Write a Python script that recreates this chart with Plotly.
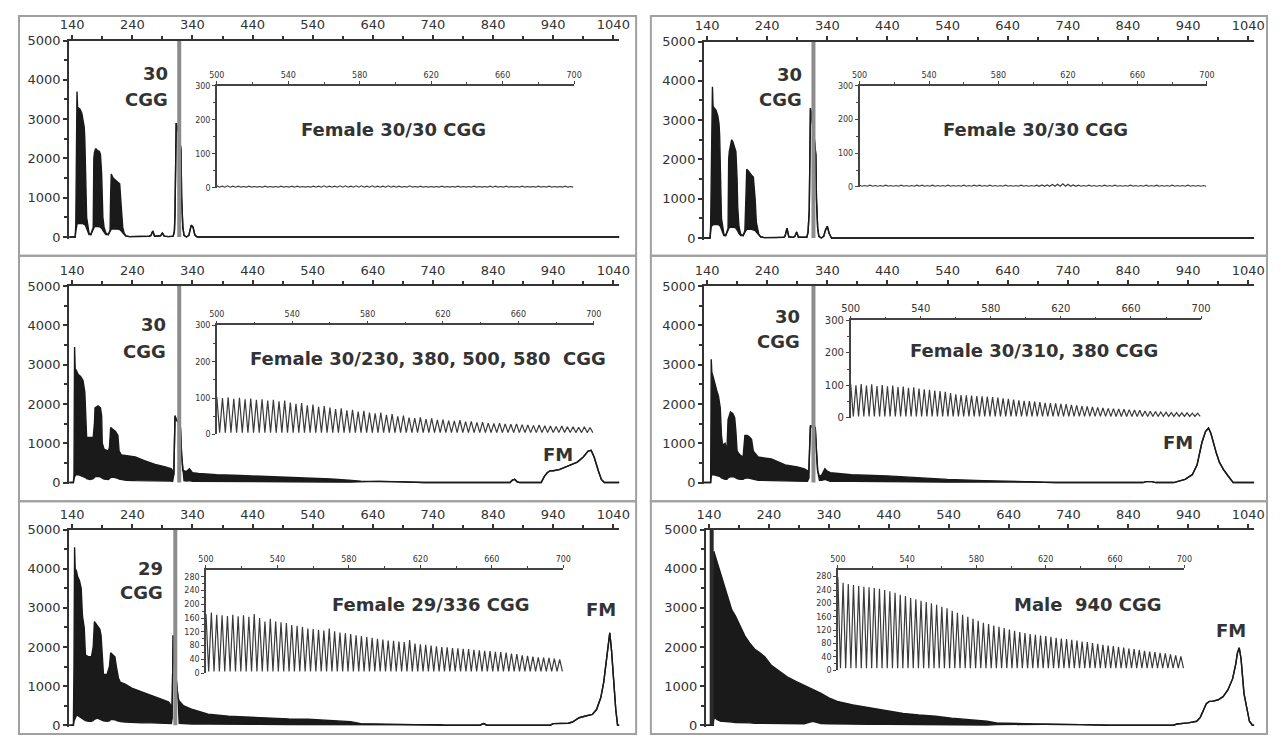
import plotly.graph_objects as go

W, H = 1286, 749          # browser window
BODY = 8                  # default page margin around the plot div
FW, FH = W - 2 * BODY, H - 2 * BODY

# ---------------- tick data ----------------
MAIN_X_TICKS = [140, 240, 340, 440, 540, 640, 740, 840, 940, 1040]
MAIN_X_MINOR = [190, 290, 390, 490, 590, 690, 790, 890, 990]
MAIN_Y_TICKS = [0, 1000, 2000, 3000, 4000, 5000]
MAIN_Y_MINOR = [500, 1500, 2500, 3500, 4500]
INSET_X_TICKS = [500, 540, 580, 620, 660, 700]
INSET_X_MINOR = [520, 560, 600, 640, 680]
INSET_Y_TICKS_100 = [0, 100, 200, 300]
INSET_Y_MINOR_100 = [50, 150, 250]
INSET_Y_TICKS_40 = [0, 40, 80, 120, 160, 200, 240, 280]
INSET_Y_MINOR_40 = [20, 60, 100, 140, 180, 220, 260]

# ---------------- labels ----------------
SAMPLE_LABELS = ["Female 30/30 CGG", "Female 30/30 CGG",
                 "Female 30/230, 380, 500, 580\u00a0 CGG", "Female 30/310, 380 CGG",
                 "Female 29/336 CGG", "Male\u00a0 940 CGG"]
ALLELE_LABELS = ["30", "30", "30", "30", "29", None]
FM_LABEL = "FM"

# normal-allele marker positions (bp)
MARKERS = [318, 317, 318, 317, 311.5, 144.5]

# ---------------- main electropherograms (bp, upper envelope, lower envelope) ----------------
A_x = [135,145,146,147,148,149,153,156,158,160,161,162,163,164,166,168,171,175,176,177,
       179,182,185,187,189,190,191,193,196,200,203,204,205,208,212,216,219,221,222,224,
       226,229,235,255,268,271,274,277,283,287,290,293,300,308,310,311,313,315,318,321,
       322,324,326,330,334,338,341,344,348,1050]
A_top = [0,0,300,1800,3700,3300,3250,3150,3000,2800,2500,1800,1000,500,300,100,60,250,2000,2150,
         2250,2200,2180,2100,1600,900,500,250,100,60,180,1100,1600,1500,1450,1400,1350,900,600,250,
         120,30,10,10,20,40,150,20,15,30,100,20,10,20,150,600,2900,2800,2600,2200,
         1000,250,40,0,40,300,250,50,0,0]
A_bot = [0,0,150,300,320,340,350,350,340,330,320,300,260,220,150,60,60,200,240,260,
         270,270,260,250,230,200,170,120,60,60,150,180,200,210,210,200,190,170,150,110,
         80,30,10,10,20,40,150,20,15,30,100,20,10,20,150,600,2900,2800,2600,2200,
         1000,250,40,0,40,300,250,50,0,0]

B_x = [135,145,146,147,149,150,153,155,158,160,161,162,163,164,166,168,171,175,176,177,
       179,181,183,185,188,190,191,193,196,200,203,205,206,209,211,214,217,220,222,224,
       226,229,235,255,268,270,273,276,283,286,289,292,300,306,308,310,312,315,318,321,
       322,324,326,330,334,337,340,343,347,1050]
B_top = [0,0,300,1900,3850,3350,3300,3250,3100,2900,2600,2000,1000,500,300,100,60,250,2000,2200,
         2350,2500,2450,2350,2200,1500,800,300,100,60,200,1200,1750,1700,1650,1600,1550,1000,400,200,
         100,30,10,10,20,60,250,30,15,40,150,20,10,20,150,700,3300,3000,2600,2100,
         1000,250,40,0,40,200,300,120,0,0]
B_bot = [0,0,150,300,320,340,350,350,340,330,320,300,260,220,150,60,60,200,250,270,
         280,280,280,270,250,220,180,120,60,60,170,200,220,230,230,220,210,190,150,110,
         80,30,10,10,20,60,250,30,15,40,150,20,10,20,150,700,3300,3000,2600,2100,
         1000,250,40,0,40,200,300,120,0,0]

C_x = [135,142,143,144,145,147,150,154,158,161,163,164,170,175,177,178,183,187,189,190,
       193,200,202,204,208,212,216,218,222,230,245,260,278,295,305,307,309,311,313,318,
       320,322,324,326,330,335,340,350,380,420,460,500,540,570,600,620,650,680,710,725,
       868,872,876,880,884,920,925,930,935,940,950,960,970,980,990,998,1003,1008,1015,1020,
       1025,1050]
C_top = [0,0,200,3450,2900,2850,2750,2700,2600,2300,1400,1150,1150,1150,1500,1900,1950,1900,1700,1000,
         850,800,900,1400,1350,1300,1200,800,700,680,650,560,460,400,350,300,200,1700,1600,1500,
         1400,700,300,300,280,350,250,230,200,180,160,140,110,90,60,35,30,25,15,0,
         0,60,80,20,0,0,150,250,300,300,330,400,450,520,650,800,820,650,300,80,
         0,0]
C_bot = [0,0,100,150,180,200,200,180,160,150,120,100,80,100,120,150,160,150,130,110,
         90,80,100,130,140,130,110,90,80,60,50,50,40,40,40,30,200,1700,1600,1500,
         1400,700,300,50,40,50,30,30,30,25,20,20,15,15,10,20,30,25,15,0,
         0,60,80,20,0,0,150,250,300,300,330,400,450,520,650,800,820,650,300,80,
         0,0]

D_x = [135,146,147,148,150,153,156,159,162,164,166,170,173,175,179,183,186,188,190,195,
       200,203,207,211,214,217,225,247,270,290,302,307,309,311,312,316,320,322,324,327,
       331,336,339,345,380,440,500,540,600,650,680,700,720,865,870,880,886,916,925,935,
       942,947,955,963,969,974,978,982,987,992,999,1006,1011,1015,1050]
D_top = [0,0,3140,2800,2700,2500,2350,2200,1900,1200,950,1000,800,1600,1800,1750,1650,1300,800,700,
         650,1200,1200,1150,1100,800,650,600,450,400,350,300,100,1100,1450,1400,1400,800,300,150,
         200,350,300,250,200,170,120,80,50,30,15,5,0,0,25,25,0,0,30,80,
         150,200,450,1020,1300,1390,1250,1000,750,520,330,180,70,0,0]
D_bot = [0,0,150,200,200,190,180,170,150,120,100,80,80,120,150,150,140,120,100,80,
         80,110,120,110,100,80,60,50,40,40,40,30,100,1100,1450,1400,1400,800,300,60,
         60,80,60,30,30,20,15,10,15,20,15,5,0,0,25,25,0,0,30,80,
         150,200,450,1020,1300,1390,1250,1000,750,520,330,180,70,0,0]

E_x = [135,142,143,144,145,147,149,152,155,157,160,162,167,172,175,177,182,186,188,190,
       192,198,202,204,208,211,214,217,220,228,239,256,272,289,300,305,306,308,310,313,
       316,318,325,340,366,400,450,500,532,581,603,620,650,700,752,760,818,824,830,935,
       940,965,972,983,995,1005,1012,1019,1024,1028,1031,1034,1037,1041,1044,1047,1050]
E_top = [0,0,1500,4550,4000,3950,3800,3700,3500,2800,2500,1800,1750,1750,2000,2650,2550,2450,2300,1800,
         1300,1300,1500,1850,1800,1750,1450,1200,1100,1050,950,850,750,650,600,500,150,2300,1600,1200,
         700,620,500,400,280,230,190,160,150,120,90,40,30,20,10,0,0,40,0,0,
         40,50,80,190,240,275,400,700,1100,1600,2100,2360,1900,1025,400,0,0]
E_bot = [0,0,100,150,200,250,250,220,200,180,150,120,100,100,120,150,180,160,150,130,
         110,100,110,150,150,140,120,100,90,80,70,60,60,50,50,40,150,2300,1600,1200,
         700,50,40,30,30,20,20,15,15,10,10,20,25,20,10,0,0,40,0,0,
         40,50,80,190,240,275,400,700,1100,1600,2100,2360,1900,1025,400,0,0]

F_x = [135,147,148,150,153,156,160,163,167,172,178,184,189,195,200,208,216,225,233,244,
       258,271,285,299,313,327,340,354,380,409,435,464,490,518,545,568,590,604,620,650,
       700,760,800,810,915,921,940,954,960,965,970,975,980,990,998,1006,1014,1019,1022,1025,
       1028,1033,1038,1042,1047,1050]
F_top = [0,0,4450,4350,4200,4030,3800,3650,3450,3200,2950,2800,2650,2450,2280,2100,1950,1850,1750,1530,
         1380,1230,1120,1025,920,815,700,610,520,440,370,300,260,230,180,150,120,100,60,40,
         25,15,5,0,0,30,60,100,200,400,550,610,610,650,730,900,1190,1550,1850,1980,
         1700,800,350,100,0,0]
F_bot = [0,0,150,200,150,120,100,100,90,80,80,70,70,60,60,60,50,50,50,50,
         45,40,40,35,100,40,35,30,30,25,25,20,20,15,15,10,10,5,15,20,
         25,15,5,0,0,30,60,100,200,400,550,610,610,650,730,900,1190,1550,1850,1980,
         1700,800,350,100,0,0]

# ---------------- inset repeat ladders (peak heights of successive CGG repeats) ----------------
REPEAT_START = 500
REPEAT_STEP = 3

IA_peaks = [6,5,6,5,5,4,5,4,4,5,4,4,5,4,5,5,4,4,5,5,6,5,5,6,6,5,6,6,5,6,5,5,6,5,
            5,4,6,4,5,4,4,4,5,4,4,5,4,4,5,4,4,5,5,4,5,4,4,5,4,4,5,4,5,4,4,5,4]
IA_trough = 2
IB_peaks = [5,4,5,4,4,5,4,4,5,4,4,5,5,4,5,4,4,5,4,4,5,4,5,5,4,5,4,4,5,4,4,5,4,4,
            5,6,6,7,8,9,8,6,5,4,5,4,4,5,4,5,4,4,5,4,4,5,4,5,4,4,5,4,4,5,4,4,4]
IB_trough = 2
IC_peaks = [103,100,102,98,101,97,99,95,97,93,95,91,93,88,84,86,80,82,76,78,74,
            70,72,66,68,63,65,60,58,60,54,56,50,52,46,45,47,42,44,40,41,38,37,39,
            35,36,33,34,31,30,31,29,28,29,27,26,25,26,24,23,22,23,21,21,20,21,19]
IC_trough = 5
ID_peaks = [105,100,104,99,103,98,101,97,99,95,96,92,94,90,88,86,84,82,80,76,72,
            70,69,68,67,66,65,64,62,60,58,56,54,52,51,50,48,46,45,44,43,42,40,38,
            36,35,33,32,30,29,28,27,26,25,24,23,21,20,19,18,17,16,16,15,15,14,14]
ID_trough = 4
IE_peaks = [172,176,170,168,166,170,165,168,164,172,160,150,158,150,148,146,140,138,135,130,128,
            126,124,130,122,118,116,114,110,108,105,103,100,98,95,94,92,90,96,86,84,82,
            80,78,76,75,73,72,71,70,68,66,65,64,62,61,60,57,55,52,50,48,46,45,44,42,40]
IE_trough = 5
IF_peaks = [278,262,258,255,252,250,248,246,244,240,236,232,226,222,216,212,208,204,200,196,190,
            185,178,172,166,160,154,148,142,138,134,130,126,122,118,114,111,108,106,104,102,100,
            97,95,93,91,89,86,84,81,79,76,74,72,70,68,65,63,61,58,56,54,52,50,47,44,41]
IF_trough = 6

MAIN = [(A_x, A_top, A_bot), (B_x, B_top, B_bot), (C_x, C_top, C_bot),
        (D_x, D_top, D_bot), (E_x, E_top, E_bot), (F_x, F_top, F_bot)]
INSETS = [(IA_peaks, IA_trough), (IB_peaks, IB_trough), (IC_peaks, IC_trough),
          (ID_peaks, ID_trough), (IE_peaks, IE_trough), (IF_peaks, IF_trough)]

# ---------------- geometry (window pixels) ----------------
GEOM = [
    dict(mx=(60, 619), my=(34, 234), ix=(210, 573), iy=(80, 184), yt="100", ifs=8),
    dict(mx=(705, 1264), my=(35, 235), ix=(863, 1216), iy=(80, 183), yt="100", ifs=8),
    dict(mx=(60, 619), my=(284, 484), ix=(210, 593), iy=(324, 435), yt="100", ifs=8),
    dict(mx=(705, 1264), my=(284, 484), ix=(854, 1210), iy=(319, 418), yt="100", ifs=10),
    dict(mx=(60, 619), my=(532, 731), ix=(199, 562), iy=(573, 678), yt="40", ifs=8),
    dict(mx=(707, 1264), my=(532, 731), ix=(841, 1193), iy=(573, 675), yt="40", ifs=8),
]
ALLELE_POS = [(162, 68, 94), (807, 69, 94), (160, 323, 351), (805, 315, 340), (157, 572, 596), None]
LABEL_POS = [(389, 125), (1042, 125), (425, 358), (1040, 350), (428, 608), (1095, 608)]
FM_POS = [None, None, (557, 455), (1187, 443), (600, 613), (1240, 635)]
BOXES = [(9, 9, 636, 253), (651, 9, 1277, 253), (9, 253, 636, 503), (651, 253, 1277, 503),
         (9, 503, 636, 740), (651, 503, 1277, 740)]

INK = "#1a1a1a"
AXC = "#333333"
TXT = "#333333"


def fx(px):
    return (px - BODY) / FW


def fy(py):
    return 1 - (py - BODY) / FH


def zigzag(peaks, trough):
    xs, ys = [], []
    for i, p in enumerate(peaks):
        x0 = REPEAT_START + REPEAT_STEP * i
        xs += [x0, x0 + REPEAT_STEP / 2]
        ys += [p, trough]
    return xs, ys


fig = go.Figure()
layout = dict(width=FW, height=FH, margin=dict(l=0, r=0, t=0, b=0),
              paper_bgcolor="white", plot_bgcolor="rgba(0,0,0,0)", showlegend=False)
annotations = []
shapes = []

for k in range(6):
    g = GEOM[k]
    mi, ii = 2 * k + 1, 2 * k + 2
    mxn = "x" if mi == 1 else f"x{mi}"
    myn = "y" if mi == 1 else f"y{mi}"
    ixn, iyn = f"x{ii}", f"y{ii}"
    mxk = "xaxis" if mi == 1 else f"xaxis{mi}"
    myk = "yaxis" if mi == 1 else f"yaxis{mi}"

    py5000, py0 = g["my"]
    pybot = py0 + (py0 - py5000) * 40 / 5000
    layout[mxk] = dict(domain=[fx(g["mx"][0]), fx(g["mx"][1])], range=[135, 1050], anchor=myn,
                       side="top", showline=True, linecolor=AXC, linewidth=2, ticks="outside",
                       ticklen=4, tickwidth=1.5, tickcolor=AXC, tickvals=MAIN_X_TICKS,
                       minor=dict(tickvals=MAIN_X_MINOR, ticks="outside", ticklen=3, tickcolor=AXC),
                       tickfont=dict(family="DejaVu Sans", size=13, color=TXT),
                       showgrid=False, zeroline=False, fixedrange=True)
    layout[myk] = dict(domain=[fy(pybot), fy(py5000)], range=[-40, 5000], anchor=mxn,
                       showline=True, linecolor=AXC, linewidth=2, ticks="outside", ticklen=4,
                       tickwidth=1.5, tickcolor=AXC, tickvals=MAIN_Y_TICKS,
                       minor=dict(tickvals=MAIN_Y_MINOR, ticks="outside", ticklen=3, tickcolor=AXC),
                       tickfont=dict(family="DejaVu Sans", size=13, color=TXT),
                       showgrid=False, zeroline=False, fixedrange=True)
    if g["yt"] == "100":
        ytv, ytm = INSET_Y_TICKS_100, INSET_Y_MINOR_100
    else:
        ytv, ytm = INSET_Y_TICKS_40, INSET_Y_MINOR_40
    layout[f"xaxis{ii}"] = dict(domain=[fx(g["ix"][0]), fx(g["ix"][1])], range=[500, 700],
                                anchor=iyn, side="top", showline=True, linecolor="#444",
                                linewidth=1.5, ticks="outside", ticklen=3, tickcolor="#444",
                                tickvals=INSET_X_TICKS,
                                minor=dict(tickvals=INSET_X_MINOR, ticks="outside", ticklen=2,
                                           tickcolor="#444"),
                                tickfont=dict(family="DejaVu Sans", size=g["ifs"], color=TXT),
                                showgrid=False, zeroline=False, fixedrange=True)
    layout[f"yaxis{ii}"] = dict(domain=[fy(g["iy"][1]), fy(g["iy"][0])], range=[0, 300],
                                anchor=ixn, showline=True, linecolor="#444", linewidth=1.5,
                                ticks="outside", ticklen=3, tickcolor="#444", tickvals=ytv,
                                minor=dict(tickvals=ytm, ticks="outside", ticklen=2, tickcolor="#444"),
                                tickfont=dict(family="DejaVu Sans", size=g["ifs"], color=TXT),
                                showgrid=False, zeroline=False, fixedrange=True)

    xs, top, bot = MAIN[k]
    fig.add_trace(go.Scatter(x=xs, y=bot, mode="lines", line=dict(color=INK, width=1.4),
                             xaxis=mxn, yaxis=myn, hoverinfo="skip"))
    fig.add_trace(go.Scatter(x=xs, y=top, mode="lines", fill="tonexty", fillcolor=INK,
                             line=dict(color=INK, width=1.4), xaxis=mxn, yaxis=myn,
                             hoverinfo="skip"))
    mcol = "#2a2a2a" if k == 5 else "#8c8c8c"
    fig.add_trace(go.Scatter(x=[MARKERS[k], MARKERS[k]], y=[0, 5000], mode="lines",
                             line=dict(color=mcol, width=4), xaxis=mxn, yaxis=myn,
                             hoverinfo="skip"))
    zx, zy = zigzag(*INSETS[k])
    fig.add_trace(go.Scatter(x=zx, y=zy, mode="lines", line=dict(color="#3a3a3a", width=1.2),
                             xaxis=ixn, yaxis=iyn, hoverinfo="skip"))

    font = dict(family="DejaVu Sans", size=18, color=TXT)
    cx, cy = LABEL_POS[k]
    annotations.append(dict(text="<b>" + SAMPLE_LABELS[k] + "</b>", x=fx(cx), y=fy(cy),
                            xref="paper", yref="paper", xanchor="center", yanchor="middle",
                            showarrow=False, font=font))
    if ALLELE_LABELS[k] is not None:
        rx, c1, c2 = ALLELE_POS[k]
        annotations.append(dict(text="<b>" + ALLELE_LABELS[k] + "</b>", x=fx(rx), y=fy(c1),
                                xref="paper", yref="paper", xanchor="right", yanchor="middle",
                                showarrow=False, font=font))
        annotations.append(dict(text="<b>CGG</b>", x=fx(rx), y=fy(c2),
                                xref="paper", yref="paper", xanchor="right", yanchor="middle",
                                showarrow=False, font=font))
    if FM_POS[k] is not None:
        fxp, fyp = FM_POS[k]
        annotations.append(dict(text="<b>" + FM_LABEL + "</b>", x=fx(fxp), y=fy(fyp),
                                xref="paper", yref="paper", xanchor="center", yanchor="middle",
                                showarrow=False, font=font))
    x0, y0, x1, y1 = BOXES[k]
    shapes.append(dict(type="rect", xref="paper", yref="paper", x0=fx(x0), x1=fx(x1),
                       y0=fy(y1), y1=fy(y0), line=dict(color="#a0a0a0", width=2),
                       fillcolor="rgba(0,0,0,0)", layer="below"))

layout["annotations"] = annotations
layout["shapes"] = shapes
fig.update_layout(**layout)

fig.write_html("out.html", config={"displayModeBar": False})
